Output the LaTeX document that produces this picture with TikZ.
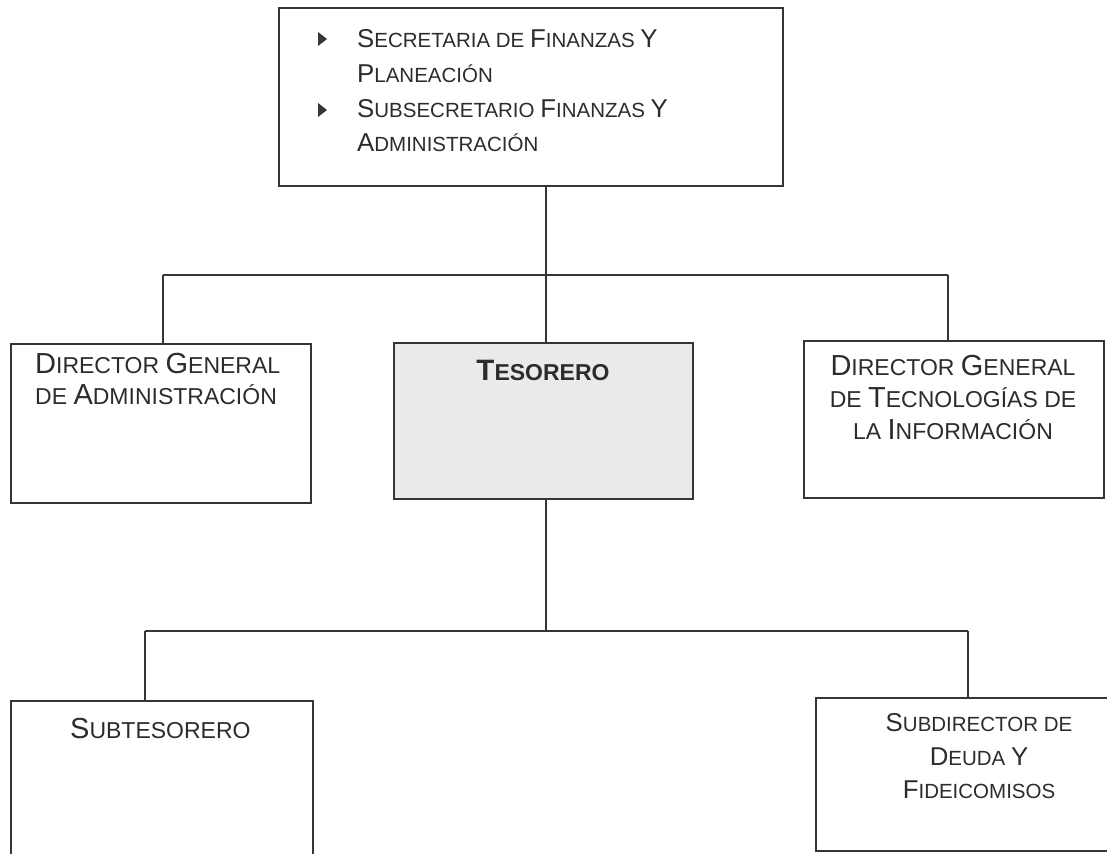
\documentclass[tikz,border=0pt]{standalone}
\usepackage{fontspec}
\setmainfont{Liberation Sans}
\definecolor{ink}{HTML}{3A3531}
\definecolor{txt}{HTML}{2E2C2B}
\definecolor{tesfill}{HTML}{EAEAEA}
\def\bgsz{28.5}
\newcommand\Bg[1]{{\fontsize{\bgsz}{30}\selectfont #1}}
\tikzset{
  box/.style={draw=ink, line width=2.4pt, fill=white, inner sep=0pt},
  conn/.style={draw=ink, line width=2.8pt},
  lbl/.style={text=txt, inner sep=0pt, font=\def\bgsz{29}\fontsize{23}{26}\selectfont},
  lbls/.style={text=txt, inner sep=0pt, font=\def\bgsz{25.8}\fontsize{20.5}{24}\selectfont},
}
\begin{document}
\begin{tikzpicture}[x=1pt,y=-1pt]
\clip (0,0) rectangle (1107,853);
\fill[white] (0,0) rectangle (1107,853);
% boxes
\node[box, minimum width=504, minimum height=178, anchor=north west] (top) at (278,7) {};
\node[box, minimum width=300, minimum height=159, anchor=north west] (dga) at (10,343) {};
\node[box, fill=tesfill, minimum width=299, minimum height=156, anchor=north west] (tes) at (393,342) {};
\node[box, minimum width=300, minimum height=157, anchor=north west] (dgt) at (803,340) {};
\node[box, minimum width=302, minimum height=170, anchor=north west] (sub) at (10,700) {};
\node[box, minimum width=292, minimum height=153, anchor=north west] (sdd) at (815,697) {};
% junction coordinates
\coordinate (j1) at (546,275);
\coordinate (j2) at (546,631);
\coordinate (h1l) at (163,275);
\coordinate (h1r) at (948,275);
\coordinate (h2l) at (145,631);
\coordinate (h2r) at (968,631);
% connectors
\draw[conn] (top.south -| j1) -- (j1) -- (tes.north -| j1);
\draw[conn] (h1l) -- (h1r);
\draw[conn] (h1l) -- (dga.north -| h1l);
\draw[conn] (h1r) -- (dgt.north -| h1r);
\draw[conn] (tes.south -| j2) -- (j2);
\draw[conn] (h2l) -- (h2r);
\draw[conn] (h2l) -- (sub.north -| h2l);
\draw[conn] (h2r) -- (sdd.north -| h2r);
% top box text
\fill[ink] (318,32) -- (327,39) -- (318,46) -- cycle;
\fill[ink] (318,103) -- (327,110) -- (318,117) -- cycle;
\node[lbls, anchor=base west] (t1) at (357,48) {\Bg{S}ECRETARIA DE \Bg{F}INANZAS \Bg{Y}};
\node[lbls, anchor=base west] (t2) at (357,83) {\Bg{P}LANEACIÓN};
\node[lbls, anchor=base west] (t3) at (357,118) {\Bg{S}UBSECRETARIO \Bg{F}INANZAS \Bg{Y}};
\node[lbls, anchor=base west] (t4) at (357,152) {\Bg{A}DMINISTRACIÓN};
% left box
\node[lbl, anchor=base west] (a1) at (35,373) {\Bg{D}IRECTOR \Bg{G}ENERAL};
\node[lbl, anchor=base west] (a2) at (35,404) {DE \Bg{A}DMINISTRACIÓN};
% tesorero
\node[lbl, anchor=base, font=\def\bgsz{29.5}\bfseries\fontsize{23}{26}\selectfont] (tx) at (543,380) {\Bg{T}ESORERO};
% right box
\node[lbl, anchor=base] (r1) at (953,375) {\Bg{D}IRECTOR \Bg{G}ENERAL};
\node[lbl, anchor=base] (r2) at (953,407) {DE \Bg{T}ECNOLOGÍAS DE};
\node[lbl, anchor=base] (r3) at (953,439) {LA \Bg{I}NFORMACIÓN};
% subtesorero
\node[lbl, anchor=base west] (s1) at (70,738) {\Bg{S}UBTESORERO};
% subdirector
\node[lbls, anchor=base] (d1) at (979,731) {\Bg{S}UBDIRECTOR DE};
\node[lbls, anchor=base] (d2) at (979,765) {\Bg{D}EUDA \Bg{Y}};
\node[lbls, anchor=base] (d3) at (979,798) {\Bg{F}IDEICOMISOS};
\end{tikzpicture}
\end{document}
